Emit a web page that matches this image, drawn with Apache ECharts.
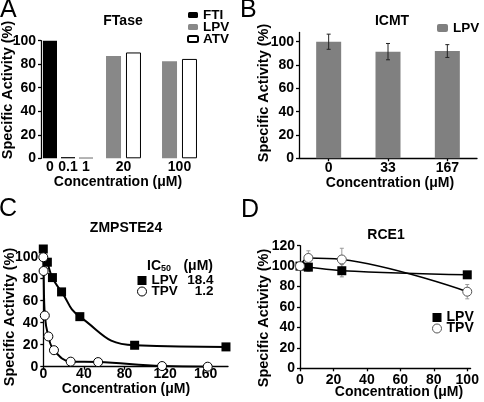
<!DOCTYPE html>
<html><head><meta charset="utf-8">
<script src="https://cdn.jsdelivr.net/npm/echarts@6/dist/echarts.min.js"></script>
<style>html,body{margin:0;padding:0;background:#fff}#c{width:484px;height:402px}</style>
</head><body><div id="c"></div>
<script>
// Panel A - FTase
const aLowConc = ["0", "0.1", "1"];
const aFTI = [100, 1, 0.5];
const aHighConc = ["20", "100"];
const aLPV = [87, 82.5];
const aATV = [90, 84.5];
// Panel B - ICMT
const bConc = ["0", "33", "167"];
const bLPV = [100, 91.5, 92];
const bErr = [6.5, 7, 5.5];
// Panel C - ZMPSTE24
const cLPVConc = [0, 4, 9, 18, 36, 90, 180];
const cLPV = [107, 95, 81, 68, 45.5, 19.5, 18];
const cTPVConc = [0, 0.3, 1.5, 5, 10.5, 27, 54, 117, 162];
const cTPV = [99.5, 87, 46.5, 27.5, 15, 4.6, 4.2, 0.6, 0];
const icNames = ["LPV", "TPV"];
const icValues = ["18.4", "1.2"];
// Panel D - RCE1
const dConc = [0, 5, 25, 100];
const dLPV = [100, 99, 95.5, 91.5];
const dLPVErr = [0, 4, 6, 0];
const dTPV = [100, 108, 106.5, 75];
const dTPVErr = [0, 7, 11, 7];
// ticks
const pctTicks = [0, 20, 40, 60, 80, 100];
const dPctTicks = [0, 20, 40, 60, 80, 100, 120];
const cConcTicks = [0, 40, 80, 120, 160];
const dConcTicks = [0, 20, 40, 60, 80, 100];

const FF = '"Liberation Sans", Arial, Helvetica, sans-serif';
const lbl = { fontFamily: FF, fontWeight: 'bold', fontSize: 14, color: '#000' };
const axLine = { show: true, lineStyle: { color: '#000', width: 1.3 } };
const axTick = { show: true, length: 3, lineStyle: { color: '#000', width: 1.3 } };

function yAxisCfg(grid, max, ticks, extra) {
  return Object.assign({
    type: 'value', gridIndex: grid, min: 0, max: max,
    axisLine: axLine, axisTick: Object.assign({ customValues: ticks }, axTick),
    axisLabel: Object.assign({ margin: 5, customValues: ticks }, lbl),
    splitLine: { show: false }
  }, extra || {});
}
function errRender(color) {
  return function (params, api) {
    const x = api.value(0), y = api.value(1), e = api.value(2);
    if (!e) return;
    const t = api.coord([x, y + e]), b = api.coord([x, y - e]);
    const s = { stroke: color, lineWidth: 1 };
    const cap = 2;
    return { type: 'group', children: [
      { type: 'line', shape: { x1: t[0], y1: t[1], x2: b[0], y2: b[1] }, style: s },
      { type: 'line', shape: { x1: t[0] - cap, y1: t[1], x2: t[0] + cap, y2: t[1] }, style: s },
      { type: 'line', shape: { x1: b[0] - cap, y1: b[1], x2: b[0] + cap, y2: b[1] }, style: s }
    ] };
  };
}
const strip = n => n.split('_')[1];
const zip = (xs, ys) => xs.map((x, i) => [x, ys[i]]);
const zip3 = (xs, ys, es) => xs.map((x, i) => [x, ys[i], es[i]]);
const legText = (size) => Object.assign({}, lbl, { fontSize: size });
const catLabel = m => Object.assign({ margin: m, interval: 0, hideOverlap: false }, lbl);

function txt(text, x, y, size, weight, align) {
  return { type: 'text', x: x, y: y, silent: true, style: {
    text: text, font: (weight || 'bold') + ' ' + size + 'px ' + FF, fill: '#000',
    textAlign: align || 'center', textVerticalAlign: 'middle' } };
}
function vtxt(text, x, y) {
  return { type: 'text', x: x, y: y, rotation: Math.PI / 2, silent: true, style: {
    text: text, font: 'bold 14.5px ' + FF, fill: '#000', textAlign: 'center', textVerticalAlign: 'middle' } };
}

const chart = echarts.init(document.getElementById('c'), null, { renderer: 'canvas' });
chart.setOption({
  backgroundColor: '#fff',
  animation: false,
  grid: [
    { left: 41, top: 40.7, width: 54, height: 117.6 },
    { left: 95.5, top: 40.7, width: 112, height: 117.6 },
    { left: 299, top: 32.4, width: 178, height: 125.9 },
    { left: 43.3, top: 245.7, width: 184.7, height: 121 },
    { left: 300, top: 245.7, width: 170.6, height: 122.6 }
  ],
  xAxis: [
    { type: 'category', gridIndex: 0, data: aLowConc, axisLine: { show: false }, axisTick: { show: false },
      axisLabel: catLabel(2) },
    { type: 'category', gridIndex: 1, data: aHighConc, axisLine: { show: false }, axisTick: { show: false },
      axisLabel: catLabel(2) },
    { type: 'category', gridIndex: 2, data: bConc, axisLine: axLine,
      axisTick: Object.assign({ alignWithLabel: true }, axTick),
      axisLabel: catLabel(3) },
    { type: 'value', gridIndex: 3, min: 0, max: 182, axisLine: axLine,
      axisTick: Object.assign({ customValues: cConcTicks }, axTick),
      axisLabel: Object.assign({ margin: 0, customValues: cConcTicks }, lbl), splitLine: { show: false } },
    { type: 'value', gridIndex: 4, min: 0, max: 102, axisLine: axLine,
      axisTick: Object.assign({ customValues: dConcTicks }, axTick),
      axisLabel: Object.assign({ margin: 5, customValues: dConcTicks }, lbl), splitLine: { show: false } }
  ],
  yAxis: [
    yAxisCfg(0, 100, pctTicks),
    yAxisCfg(1, 100, pctTicks, { show: false }),
    yAxisCfg(2, 108, pctTicks),
    yAxisCfg(3, 110, pctTicks),
    yAxisCfg(4, 120, dPctTicks)
  ],
  legend: [
    { data: ['A_FTI', 'A_LPV', 'A_ATV'], orient: 'vertical', left: 187, top: 8, padding: 0,
      itemWidth: 10, itemHeight: 6, itemGap: -2, selectedMode: false, formatter: strip,
      textStyle: legText(13.5) },
    { data: ['B_LPV'], left: 437, top: 21, padding: 0, itemWidth: 11, itemHeight: 8, selectedMode: false,
      formatter: strip, textStyle: legText(13.5) },
    { data: [{ name: 'C_LPV', icon: 'rect', itemStyle: { color: '#000' } },
             { name: 'C_TPV', icon: 'circle', itemStyle: { color: '#fff', borderColor: '#000', borderWidth: 1 } }],
      orient: 'vertical', left: 137, top: 273.5, padding: 0, itemWidth: 9, itemHeight: 9, itemGap: -3,
      selectedMode: false,
      formatter: n => { const k = strip(n); return '{n|' + k + '}{v|' + icValues[icNames.indexOf(k)] + '}'; },
      textStyle: Object.assign({}, lbl, { fontSize: 13.5, rich: {
        n: { width: 33, fontFamily: FF, fontWeight: 'bold', fontSize: 13.5 },
        v: { width: 29, align: 'right', fontFamily: FF, fontWeight: 'bold', fontSize: 13.5 } } }) },
    { data: [{ name: 'D_LPV', icon: 'rect', itemStyle: { color: '#000' } },
             { name: 'D_TPV', icon: 'circle', itemStyle: { color: '#fff', borderColor: '#555', borderWidth: 1 } }],
      orient: 'vertical', left: 432, top: 310.5, padding: 0, itemWidth: 9, itemHeight: 9, itemGap: -3,
      selectedMode: false, formatter: strip, textStyle: legText(14) }
  ],
  series: [
    { name: 'A_FTI', type: 'bar', xAxisIndex: 0, yAxisIndex: 0, data: aFTI, barWidth: 14,
      itemStyle: { color: '#000' } },
    { name: 'A_LPV', type: 'bar', xAxisIndex: 1, yAxisIndex: 1, data: aLPV, barWidth: 15, barGap: '33%',
      itemStyle: { color: '#888' } },
    { name: 'A_ATV', type: 'bar', xAxisIndex: 1, yAxisIndex: 1, data: aATV, barWidth: 15, barGap: '33%',
      itemStyle: { color: '#fff', borderColor: '#000', borderWidth: 1 } },
    { name: 'B_LPV', type: 'bar', xAxisIndex: 2, yAxisIndex: 2, data: bLPV, barWidth: 25,
      itemStyle: { color: '#808080' } },
    { name: 'B_err', type: 'custom', xAxisIndex: 2, yAxisIndex: 2, renderItem: errRender('#222'),
      data: zip3(bConc.map((c, i) => i), bLPV, bErr), z: 5 },
    { name: 'C_LPV', type: 'line', xAxisIndex: 3, yAxisIndex: 3, data: zip(cLPVConc, cLPV),
      smooth: 0.5, symbol: 'rect', symbolSize: 9,
      itemStyle: { color: '#000' }, lineStyle: { color: '#000', width: 2 } },
    { name: 'C_TPV', type: 'line', xAxisIndex: 3, yAxisIndex: 3, data: zip(cTPVConc, cTPV),
      smooth: 0.4, symbol: 'circle', symbolSize: 9,
      itemStyle: { color: '#fff', borderColor: '#000', borderWidth: 1 }, lineStyle: { color: '#000', width: 2 } },
    { name: 'D_errL', type: 'custom', xAxisIndex: 4, yAxisIndex: 4, renderItem: errRender('#888'),
      data: zip3(dConc, dLPV, dLPVErr), z: 1 },
    { name: 'D_errT', type: 'custom', xAxisIndex: 4, yAxisIndex: 4, renderItem: errRender('#999'),
      data: zip3(dConc, dTPV, dTPVErr), z: 1 },
    { name: 'D_LPV', type: 'line', xAxisIndex: 4, yAxisIndex: 4, data: zip(dConc, dLPV),
      smooth: 0.4, symbol: 'rect', symbolSize: 9, z: 3,
      itemStyle: { color: '#000' }, lineStyle: { color: '#000', width: 1.5 } },
    { name: 'D_TPV', type: 'line', xAxisIndex: 4, yAxisIndex: 4, data: zip(dConc, dTPV),
      smooth: 0.4, symbol: 'circle', symbolSize: 9, z: 4,
      itemStyle: { color: '#fff', borderColor: '#555', borderWidth: 1 }, lineStyle: { color: '#000', width: 1.5 } }
  ],
  graphic: [
    txt('A', 0, 10, 25, 'normal', 'left'),
    txt('B', 240, 10, 25, 'normal', 'left'),
    txt('C', -1, 209, 25, 'normal', 'left'),
    txt('D', 241, 210, 25, 'normal', 'left'),
    txt('FTase', 123, 21, 14),
    txt('ICMT', 392, 21, 14),
    txt('ZMPSTE24', 126, 228, 14),
    txt('RCE1', 386, 235, 14),
    txt('Concentration (\u03bcM)', 118, 182, 14),
    txt('Concentration (\u03bcM)', 390, 183, 14),
    txt('Concentration (\u03bcM)', 126, 389, 14),
    txt('Concentration (\u03bcM)', 399, 392, 14),
    vtxt('Specific Activity (%)', 8, 90),
    vtxt('Specific Activity (%)', 264, 93),
    vtxt('Specific Activity (%)', 10, 317),
    vtxt('Specific Activity (%)', 264, 318),
    { type: 'text', x: 147, y: 266, silent: true, style: {
      text: '{a|IC}{s|50}', textVerticalAlign: 'middle', textAlign: 'left',
      rich: {
        a: { fontFamily: FF, fontWeight: 'bold', fontSize: 14, fill: '#000', color: '#000' },
        s: { fontFamily: FF, fontWeight: 'bold', fontSize: 9, fill: '#000', color: '#000', padding: [5, 0, 0, 0] }
      } } },
    txt('(\u03bcM)', 213, 266.5, 14, 'bold', 'right')
  ]
});
</script>
</body></html>
